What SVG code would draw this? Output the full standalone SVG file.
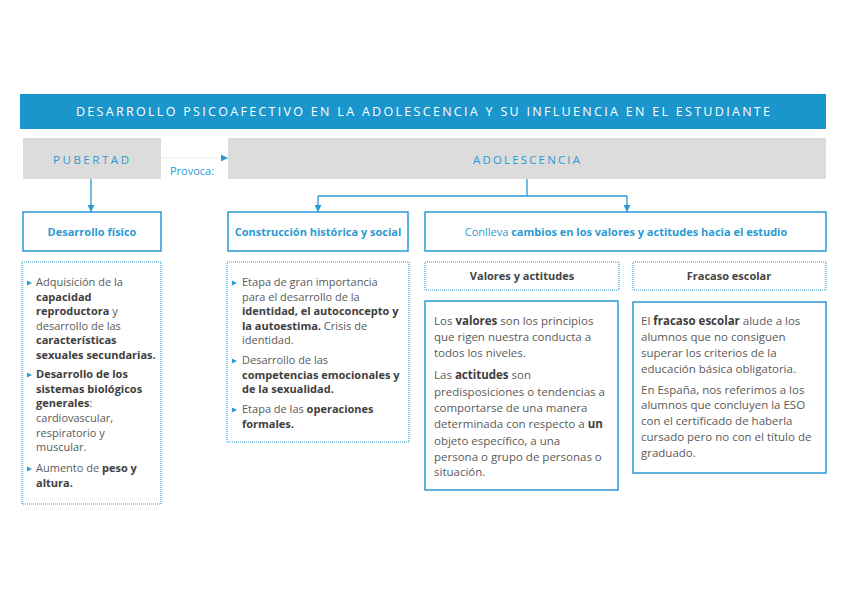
<svg xmlns="http://www.w3.org/2000/svg" width="848" height="599" viewBox="0 0 848 599">
<defs>
<style>
text{font-family:"Open Sans","Liberation Sans",sans-serif}
.hdr{fill:#ffffff;font-size:12.5px}
.cap{fill:#2a9ad3;font-size:11.5px}
.blue{fill:#2a9ad3;font-size:11px}
.ttl{fill:#2a9ad3;font-size:11px;font-weight:bold}
.sub{fill:#444;font-size:11px;font-weight:bold}
.body{fill:#5a5a5a;font-size:11px}
.body2{fill:#5a5a5a;font-size:11.5px}
.b{font-weight:bold;fill:#3e3e3e}
.grey{fill:#dcdcdc}
.box{fill:#fff;stroke:#2a9ad3;stroke-width:1.5}
.dot{fill:#fff;stroke:#3aa2d6;stroke-width:1.2;stroke-dasharray:1 1}
.conn{fill:none;stroke:#2a9ad3;stroke-width:1.3}
</style>
<marker id="ah" viewBox="0 0 10 10" refX="10" refY="5" markerWidth="7" markerHeight="7" markerUnits="userSpaceOnUse" orient="auto">
<path d="M0,0 L10,5 L0,10 z" fill="#2a9ad3"/>
</marker>
<path id="bul" d="M0,-2.5 L5,0 L0,2.5 z" fill="#2a9ad3"/>
</defs>
<rect width="848" height="599" fill="#fff"/>

<g id="header">
<rect x="20" y="94" width="806" height="35" fill="#1b96cc"/>
<text class="hdr" x="76" y="116" textLength="694" lengthAdjust="spacing">DESARROLLO PSICOAFECTIVO EN LA ADOLESCENCIA Y SU INFLUENCIA EN EL ESTUDIANTE</text>
</g>

<g id="pubertad">
<rect class="grey" x="23" y="138" width="138" height="41"/>
<text class="cap" x="53" y="164" textLength="76" lengthAdjust="spacing">PUBERTAD</text>
</g>

<g id="adolescencia">
<rect class="grey" x="228" y="138" width="598" height="41"/>
<text class="cap" x="473" y="164" textLength="107" lengthAdjust="spacing">ADOLESCENCIA</text>
</g>

<g id="connectors">
<line x1="161" y1="158" x2="228" y2="158" stroke="#ececec" stroke-width="1" marker-end="url(#ah)"/>
<text class="blue" x="170" y="175">Provoca:</text>
<line class="conn" x1="91" y1="179" x2="91" y2="212" marker-end="url(#ah)"/>
<line class="conn" x1="527" y1="179" x2="527" y2="196"/>
<line class="conn" x1="318" y1="196" x2="627" y2="196"/>
<line class="conn" x1="318" y1="196" x2="318" y2="212" marker-end="url(#ah)"/>
<line class="conn" x1="627" y1="196" x2="627" y2="212" marker-end="url(#ah)"/>
</g>

<g id="desarrollo-fisico">
<rect class="box" x="23" y="212" width="138" height="39"/>
<text class="ttl" x="92" y="236" text-anchor="middle">Desarrollo físico</text>
</g>

<g id="construccion">
<rect class="box" x="228" y="212" width="180" height="39"/>
<text class="ttl" x="318" y="236" text-anchor="middle">Construcción histórica y social</text>
</g>

<g id="conlleva">
<rect class="box" x="425" y="212" width="401" height="39"/>
<text class="ttl" x="626" y="236" text-anchor="middle"><tspan font-weight="normal">Conlleva </tspan>cambios en los valores y actitudes hacia el estudio</text>
</g>

<g id="fisico-detalle">
<rect class="dot" x="22" y="262" width="139" height="242"/>
<use href="#bul" x="27" y="283"/>
<use href="#bul" x="27" y="375"/>
<use href="#bul" x="27" y="469"/>
<text class="body">
<tspan x="36" y="286">Adquisición de la</tspan>
<tspan x="36" y="301" class="b">capacidad</tspan>
<tspan x="36" y="315"><tspan class="b">reproductora</tspan> y</tspan>
<tspan x="36" y="330">desarrollo de las</tspan>
<tspan x="36" y="344" class="b">características</tspan>
<tspan x="36" y="359" class="b">sexuales secundarias.</tspan>
<tspan x="36" y="378" class="b">Desarrollo de los</tspan>
<tspan x="36" y="393" class="b">sistemas biológicos</tspan>
<tspan x="36" y="407"><tspan class="b">generales</tspan>:</tspan>
<tspan x="36" y="422">cardiovascular,</tspan>
<tspan x="36" y="437">respiratorio y</tspan>
<tspan x="36" y="451">muscular.</tspan>
<tspan x="36" y="472">Aumento de <tspan class="b">peso y</tspan></tspan>
<tspan x="36" y="487" class="b">altura.</tspan>
</text>
</g>

<g id="construccion-detalle">
<rect class="dot" x="227" y="262" width="182" height="180"/>
<use href="#bul" x="232" y="283"/>
<use href="#bul" x="232" y="361"/>
<use href="#bul" x="232" y="410"/>
<text class="body">
<tspan x="242" y="286">Etapa de gran importancia</tspan>
<tspan x="242" y="301">para el desarrollo de la</tspan>
<tspan x="242" y="315" class="b">identidad, el autoconcepto y</tspan>
<tspan x="242" y="330"><tspan class="b">la autoestima.</tspan> Crisis de</tspan>
<tspan x="242" y="344">identidad.</tspan>
<tspan x="242" y="364">Desarrollo de las</tspan>
<tspan x="242" y="379" class="b">competencias emocionales y</tspan>
<tspan x="242" y="393" class="b">de la sexualidad.</tspan>
<tspan x="242" y="413">Etapa de las <tspan class="b">operaciones</tspan></tspan>
<tspan x="242" y="428" class="b">formales.</tspan>
</text>
</g>

<g id="valores-titulo">
<rect class="dot" x="425" y="262" width="194" height="28"/>
<text class="sub" x="522" y="280" text-anchor="middle">Valores y actitudes</text>
</g>

<g id="fracaso-titulo">
<rect class="dot" x="633" y="262" width="193" height="28"/>
<text class="sub" x="729" y="280" text-anchor="middle">Fracaso escolar</text>
</g>

<g id="valores-detalle">
<rect class="box" x="425" y="301" width="193" height="189"/>
<text class="body2">
<tspan x="434" y="325">Los <tspan class="b">valores</tspan> son los principios</tspan>
<tspan x="434" y="341">que rigen nuestra conducta a</tspan>
<tspan x="434" y="357">todos los niveles.</tspan>
<tspan x="434" y="379">Las <tspan class="b">actitudes</tspan> son</tspan>
<tspan x="434" y="396">predisposiciones o tendencias a</tspan>
<tspan x="434" y="412">comportarse de una manera</tspan>
<tspan x="434" y="428">determinada con respecto a <tspan class="b">un</tspan></tspan>
<tspan x="434" y="445">objeto específico, a una</tspan>
<tspan x="434" y="461">persona o grupo de personas o</tspan>
<tspan x="434" y="476">situación.</tspan>
</text>
</g>

<g id="fracaso-detalle">
<rect class="box" x="633" y="302" width="193" height="171"/>
<text class="body2">
<tspan x="641" y="325">El <tspan class="b">fracaso escolar</tspan> alude a los</tspan>
<tspan x="641" y="341">alumnos que no consiguen</tspan>
<tspan x="641" y="357">superar los criterios de la</tspan>
<tspan x="641" y="373">educación básica obligatoria.</tspan>
<tspan x="641" y="394">En España, nos referimos a los</tspan>
<tspan x="641" y="409">alumnos que concluyen la ESO</tspan>
<tspan x="641" y="425">con el certificado de haberla</tspan>
<tspan x="641" y="441">cursado pero no con el título de</tspan>
<tspan x="641" y="457">graduado.</tspan>
</text>
</g>
</svg>
